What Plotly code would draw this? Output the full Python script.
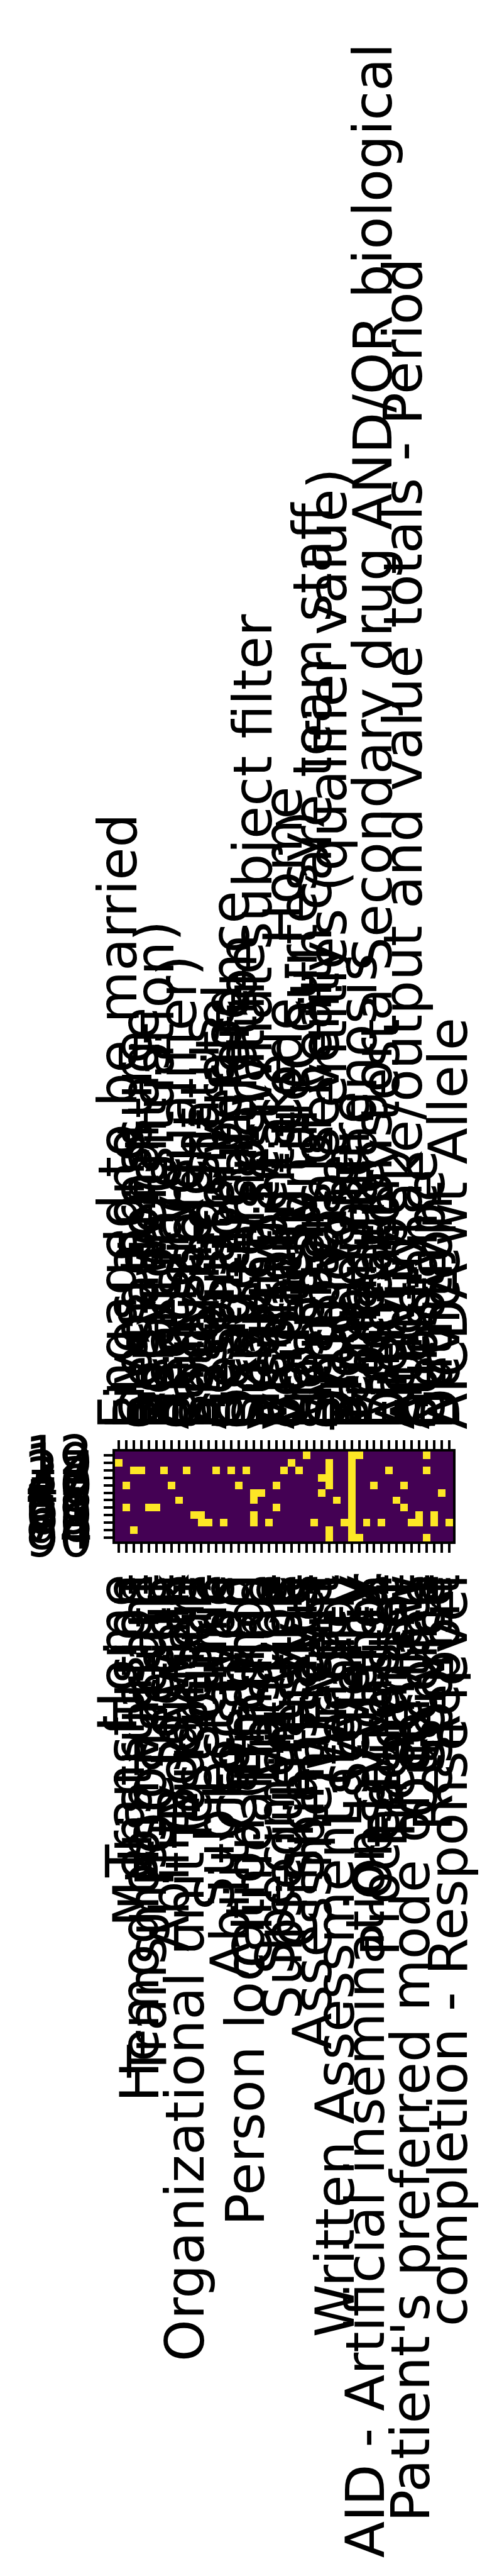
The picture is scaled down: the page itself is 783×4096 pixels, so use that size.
import plotly.graph_objects as go

# ---- data ----
n_cols = 45
n_rows = 12

row_labels = ["12", "19", "27", "33", "40", "48", "55", "61", "69", "76", "84", "90"]

top_labels = [
    "Engaged to be married", "Lives alone", "Blood pressure", "Gestational age",
    "Body weight", "Relation (situation)", "Heart rate", "Ancestry",
    "Gender (qualifier)", "Pain score", "Body height", "Smoking status",
    "Assessment", "Respiratory rate", "Gestation period", "Head circumference",
    "Oxygen saturation", "Body temperature", "Subject(s) - What subject filter",
    "Hearing test", "Visit type", "Alcohol intake", "Verbatim - Code - Home",
    "Courtesy title", "Professional (Courtesy)", "Hospital",
    "Members of health care team staff", "Symptom severity",
    "Observable entities (qualifier value)", "Drug dose", "Blood type",
    "Temperature", "Primary diagnosis", "Procedure",
    "Medications or a Secondary drug AND/OR biological", "Laboratory test",
    "Diet type", "Activity", "Fluid intake/output and value totals - Period",
    "Allele", "Substance", "Genotype", "Nutrition", "Device", "AICDA wt Allele",
]

bottom_labels = [
    "Home", "Transfusion", "Menstruation", "Hemoglobin variant",
    "Transmission route", "POCT result", "Section", "Ability to walk",
    "Body site", "Organizational unit (qualifier)", "Test result",
    "Source", "Clinic", "Subject type", "Location", "Ability to stand",
    "Care plan", "Person location (finding)", "Clinical finding",
    "Episode", "Vaccine", "Specimen type", "Subsequent visit",
    "Lifestyle", "Clinical status", "Spinal level", "Assessment scale",
    "Event", "Written", "Written Assessment (record)", "Laterality",
    "Severity", "Allergy", "AID - Artificial insemination by donor",
    "Observation", "Procedure site", "Encounter", "Treatment",
    "Review", "Patient's preferred mode of contact", "Outcome",
    "Service", "Response", "Report", "completion - Response level",
]

# yellow cells: (row, col)
on_cells = [
    (0, 25), (0, 31), (0, 32), (0, 41),
    (1, 0), (1, 23), (1, 28), (1, 31),
    (2, 2), (2, 3), (2, 6), (2, 9), (2, 13), (2, 15), (2, 17), (2, 22), (2, 24),
    (2, 28), (2, 31), (2, 36), (2, 41),
    (3, 27), (3, 28), (3, 31),
    (4, 1), (4, 7), (4, 16), (4, 21), (4, 28), (4, 31), (4, 34), (4, 38),
    (5, 18), (5, 19), (5, 27), (5, 31), (5, 43),
    (6, 8), (6, 18), (6, 29), (6, 31), (6, 37),
    (7, 1), (7, 4), (7, 5), (7, 21), (7, 31), (7, 38),
    (8, 10), (8, 11), (8, 18), (8, 31), (8, 40), (8, 42),
    (9, 11), (9, 12), (9, 14), (9, 18), (9, 20), (9, 26), (9, 30), (9, 31),
    (9, 33), (9, 35), (9, 39), (9, 40), (9, 42), (9, 44),
    (10, 2), (10, 28), (10, 31),
    (11, 28), (11, 31), (11, 32), (11, 41),
]

z = [[0] * n_cols for _ in range(n_rows)]
for r, c in on_cells:
    z[r][c] = 1

# ---- figure ----
FONT = dict(family="DejaVu Sans", size=85, color="black")
TL = 14
TW = 3.8

fig = go.Figure()
fig.add_trace(go.Heatmap(
    z=z, x=list(range(n_cols)), y=list(range(n_rows)),
    colorscale=[[0, "#440154"], [1, "#fde725"]], zmin=0, zmax=1,
    showscale=False, hoverinfo="skip",
))
fig.add_trace(go.Scatter(x=[0], y=[0], xaxis="x2", yaxis="y", mode="markers",
                         marker=dict(opacity=0), showlegend=False, hoverinfo="skip"))

common_x = dict(
    range=[-0.5, n_cols - 0.5], tickmode="array", tickvals=list(range(n_cols)),
    tickangle=-90, ticks="outside", ticklen=TL, tickwidth=TW, tickcolor="black",
    showgrid=False, zeroline=False, showline=True, linewidth=TW, linecolor="black",
    tickfont=FONT, automargin=False, fixedrange=True,
)

fig.update_layout(
    width=783, height=4096,
    margin=dict(l=175, r=70, t=2300, b=1653, pad=0),
    paper_bgcolor="white", plot_bgcolor="white",
    showlegend=False,
    xaxis=dict(common_x, ticktext=bottom_labels, side="bottom", mirror=True),
    xaxis2=dict(common_x, ticktext=top_labels, side="top", overlaying="x",
                anchor="y"),
    yaxis=dict(
        range=[n_rows - 0.5, -0.5], tickmode="array", tickvals=list(range(n_rows)),
        ticktext=row_labels, ticks="outside", ticklen=TL, tickwidth=TW,
        tickcolor="black", showgrid=False, zeroline=False, showline=True,
        linewidth=TW, linecolor="black", mirror=True, tickfont=FONT,
        automargin=False, fixedrange=True,
    ),
)

fig.write_html("out.html")
